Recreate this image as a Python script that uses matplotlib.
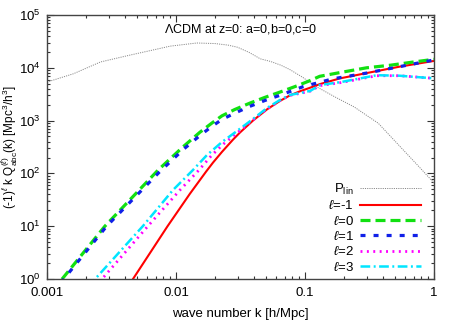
import matplotlib
matplotlib.use("Agg")
import matplotlib.pyplot as plt
from matplotlib.ticker import LogLocator, FixedLocator, FixedFormatter, NullFormatter

plt.rcParams['font.family'] = ['Liberation Sans', 'DejaVu Sans']
plt.rcParams['mathtext.fontset'] = 'custom'
plt.rcParams['mathtext.rm'] = 'Liberation Sans'
plt.rcParams['mathtext.it'] = 'Liberation Sans:italic'
plt.rcParams['mathtext.bf'] = 'Liberation Sans:bold'
plt.rcParams['lines.scale_dashes'] = False

# ---- data ----
k_plin = [0.001, 0.0016, 0.0026, 0.0044, 0.0065, 0.009, 0.0145, 0.02, 0.0253, 0.030,
          0.037, 0.045, 0.054, 0.065, 0.076, 0.096, 0.119, 0.17, 0.24, 0.37, 0.55, 0.75, 1.0]
p_lin = [5370, 7700, 12900, 17400, 21500, 25700, 29500, 28800, 26900, 24500,
         19500, 14800, 13200, 11200, 9300, 6600, 4570, 2820, 1820, 890, 316, 141, 66]

k_m1 = [0.0042, 0.00464, 0.0086, 0.0128, 0.0171, 0.01935, 0.02273, 0.02766, 0.03133, 0.03953,
        0.05074, 0.064, 0.0765, 0.0915, 0.1094, 0.1308, 0.187, 0.30, 0.54, 1.0]
q_m1 = [0.7, 1.0, 10, 41, 108, 160, 256, 436, 595, 1002,
        1630, 2360, 3005, 3595, 4190, 4920, 6310, 7940, 10500, 13500]

k_0 = [0.0011, 0.00131, 0.00281, 0.00725, 0.0113, 0.0153, 0.019, 0.0227, 0.0285, 0.0373,
       0.0488, 0.064, 0.087, 0.11, 0.13, 0.196, 0.30, 0.46, 0.65, 1.0]
q_0 = [0.6, 1.0, 10, 115, 316, 600, 900, 1230, 1620, 2140,
       2750, 3470, 4570, 5750, 6900, 8300, 10000, 11200, 12600, 14500]

k_1 = [0.0011, 0.00135, 0.0029, 0.0074, 0.0115, 0.0153, 0.019, 0.0227, 0.0285, 0.0373,
       0.0488, 0.064, 0.096, 0.123, 0.164, 0.30, 0.54, 1.0]
q_1 = [0.55, 1.0, 10, 105, 290, 520, 780, 1050, 1380, 1860,
       2400, 3020, 4370, 5130, 6170, 7940, 10500, 14100]

k_2 = [0.0024, 0.00267, 0.00607, 0.01074, 0.01508, 0.0190, 0.02356, 0.0297, 0.0395, 0.0507,
       0.064, 0.0765, 0.0915, 0.1094, 0.1308, 0.19, 0.36, 0.54, 1.0]
q_2 = [0.7, 1.0, 10.1, 48.5, 116, 223, 368, 582, 1026, 1660,
       2400, 3000, 3280, 3600, 4600, 5250, 7080, 7080, 6310]

k_3 = [0.0021, 0.00236, 0.00555, 0.00948, 0.01354, 0.01739, 0.02273, 0.0297, 0.03953, 0.05074,
       0.064, 0.0765, 0.0915, 0.1094, 0.1308, 0.19, 0.36, 0.54, 1.0]
q_3 = [0.7, 1.0, 10.1, 48.5, 116, 223, 393, 636, 1072, 1733,
       2455, 3055, 3335, 3640, 4720, 5370, 7240, 7080, 6310]

xtick_vals = [0.001, 0.01, 0.1, 1]
xtick_labels = ['0.001', '0.01', '0.1', '1']

title_text = r'$\Lambda$CDM at z=0: a=0,b=0,c=0'

# ---- figure ----
fig = plt.figure(figsize=(4.57, 3.2), dpi=100)
ax = fig.add_axes([47/457, 41/320, 387/457, 264/320])

ax.plot(k_plin, p_lin, color='#888888', lw=0.7, dashes=(0.8, 0.8), label=r'P$_{\rm lin}$')
ax.plot(k_m1, q_m1, color='#ff0000', lw=1.5, label=r'$\ell$=-1')
ax.plot(k_0, q_0, color='#11e011', lw=2.3, dashes=(7.2, 3.6), label=r'$\ell$=0')
ax.plot(k_1, q_1, color='#1020e8', lw=2.3, dashes=(3.6, 5.8), label=r'$\ell$=1')
ax.plot(k_2, q_2, color='#ff00ff', lw=2.0, dashes=(1.4, 3.2), label=r'$\ell$=2')
ax.plot(k_3, q_3, color='#00e5ff', lw=1.8, dashes=(7.0, 2.5, 1.4, 2.5), label=r'$\ell$=3')

ax.set_xscale('log')
ax.set_yscale('log')
ax.set_xlim(0.001, 1)
ax.set_ylim(1, 1e5)

ax.xaxis.set_major_locator(FixedLocator(xtick_vals))
ax.xaxis.set_major_formatter(FixedFormatter(xtick_labels))
ax.xaxis.set_minor_locator(LogLocator(base=10, subs=range(2, 10), numticks=20))
ax.xaxis.set_minor_formatter(NullFormatter())
ax.yaxis.set_major_locator(LogLocator(base=10, numticks=10))
ax.yaxis.set_minor_locator(LogLocator(base=10, subs=range(2, 10), numticks=20))
ax.yaxis.set_minor_formatter(NullFormatter())

ax.tick_params(which='both', direction='in', top=True, right=True, colors='#333333',
               labelcolor='black', labelsize=9.5, width=0.8)
ax.tick_params(which='major', length=5, pad=6)
ax.tick_params(axis='y', which='major', pad=4.5)
ax.tick_params(which='minor', length=2.5)
for s in ax.spines.values():
    s.set_color('#444444')
    s.set_linewidth(1.0)

ax.set_xlabel('wave number k [h/Mpc]', fontsize=9.5, labelpad=6)
ax.set_ylabel(r'(-1)$^{\ell}$ k Q$^{(\ell)}_{\rm abc}$(k) [Mpc$^3$/h$^3$]', fontsize=8.5)
ax.yaxis.set_label_coords(-0.071, 0.5)

ax.text(0.5, 0.972, title_text, transform=ax.transAxes, ha='center', va='top', fontsize=9)

leg = ax.legend(loc='lower right', bbox_to_anchor=((419 - 47) / 387 + 0.005, 0.02),
                frameon=False, markerfirst=False, fontsize=9.5, handlelength=4.6,
                handletextpad=0.5, labelspacing=0.18, borderpad=0, borderaxespad=0)

fig.savefig('out.png', dpi=100)
